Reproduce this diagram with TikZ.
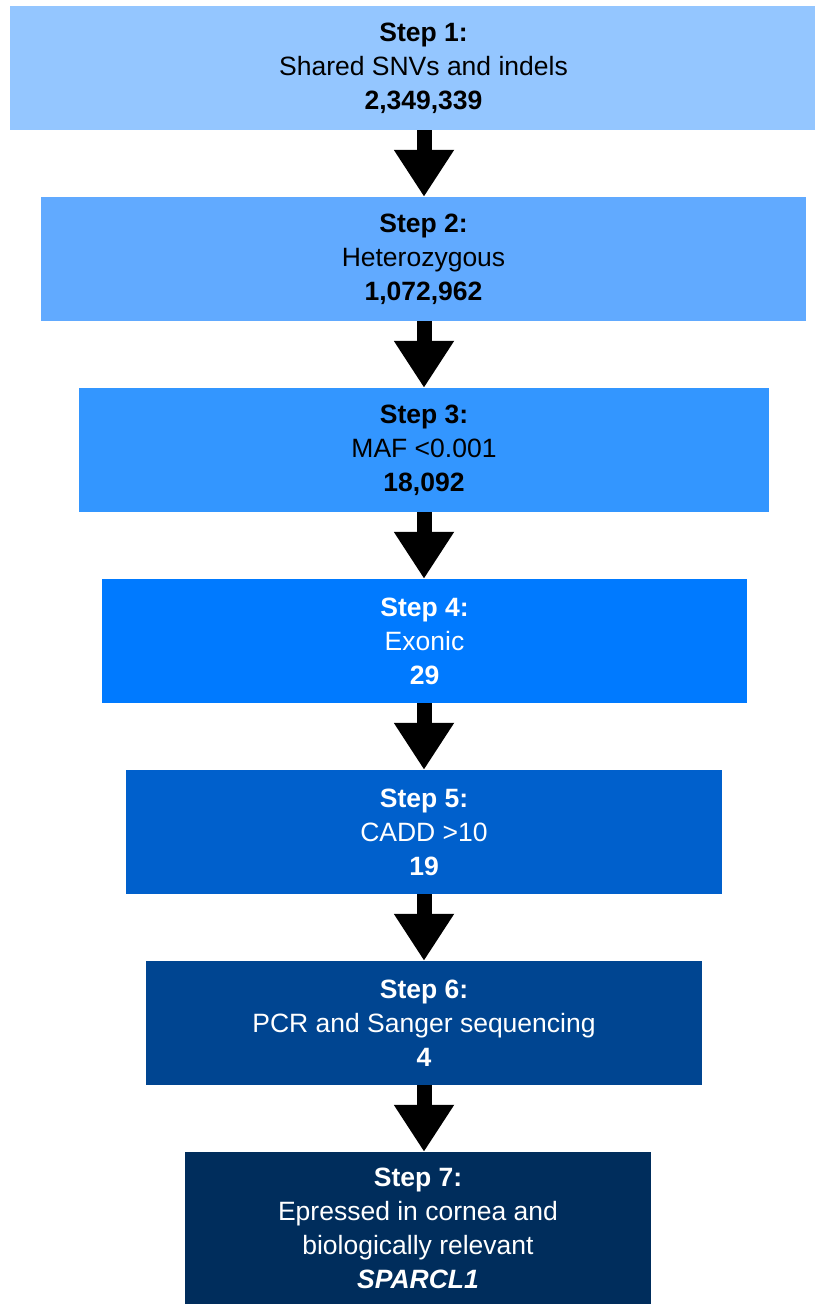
\documentclass[tikz,border=0pt]{standalone}
\usepackage{fontspec}
\setmainfont{Liberation Sans}
\usetikzlibrary{arrows.meta}

\definecolor{stepA}{RGB}{148,198,255}
\definecolor{stepB}{RGB}{97,170,255}
\definecolor{stepC}{RGB}{51,150,255}
\definecolor{stepD}{RGB}{0,122,255}
\definecolor{stepE}{RGB}{0,96,204}
\definecolor{stepF}{RGB}{0,69,145}
\definecolor{stepG}{RGB}{0,45,92}

\begin{document}
\begin{tikzpicture}[x=1pt, y=-1pt]

            \tikzset{
                stepbox/.style={minimum height=124pt, inner sep=0pt, align=center,
                    font=\fontsize{26.5}{34}\selectfont},
                flow/.style={line width=15pt, -{Triangle[width=57pt, length=47pt]}}
            }

            % the frame
            \useasboundingbox (0, 0) rectangle (826, 1304);
            \coordinate (ax) at (424, 0);

            % the steps
            \node[stepbox, fill=stepA, minimum width=805pt] (s1) at (412.5, 68)
                {\hspace*{22pt}\textbf{Step 1:}\\\hspace*{22pt}Shared SNVs and indels\\\hspace*{22pt}\textbf{2,349,339}};
            \node[stepbox, fill=stepB, minimum width=765pt] (s2) at (423.5, 259)
                {\textbf{Step 2:}\\Heterozygous\\\textbf{1,072,962}};
            \node[stepbox, fill=stepC, minimum width=690pt] (s3) at (424, 450)
                {\textbf{Step 3:}\\MAF <0.001\\\textbf{18,092}};
            \node[stepbox, fill=stepD, text=white, minimum width=645pt] (s4) at (424.5, 641)
                {\textbf{Step 4:}\\Exonic\\\textbf{29}};
            \node[stepbox, fill=stepE, text=white, minimum width=596pt] (s5) at (424, 832)
                {\textbf{Step 5:}\\CADD >10\\\textbf{19}};
            \node[stepbox, fill=stepF, text=white, minimum width=556pt] (s6) at (424, 1023)
                {\textbf{Step 6:}\\PCR and Sanger sequencing\\\textbf{4}};
            \node[stepbox, fill=stepG, text=white, minimum width=466pt, minimum height=152pt] (s7) at (418, 1228)
                {\textbf{Step 7:}\\Epressed in cornea and\\biologically relevant\\\textbf{\textit{SPARCL1}}};

            % the arrows
            \foreach \a/\b in {s1/s2, s2/s3, s3/s4, s4/s5, s5/s6, s6/s7} {
                \draw[flow] (\a.south -| ax) -- (\b.north -| ax);
            };

\end{tikzpicture}
\end{document}
